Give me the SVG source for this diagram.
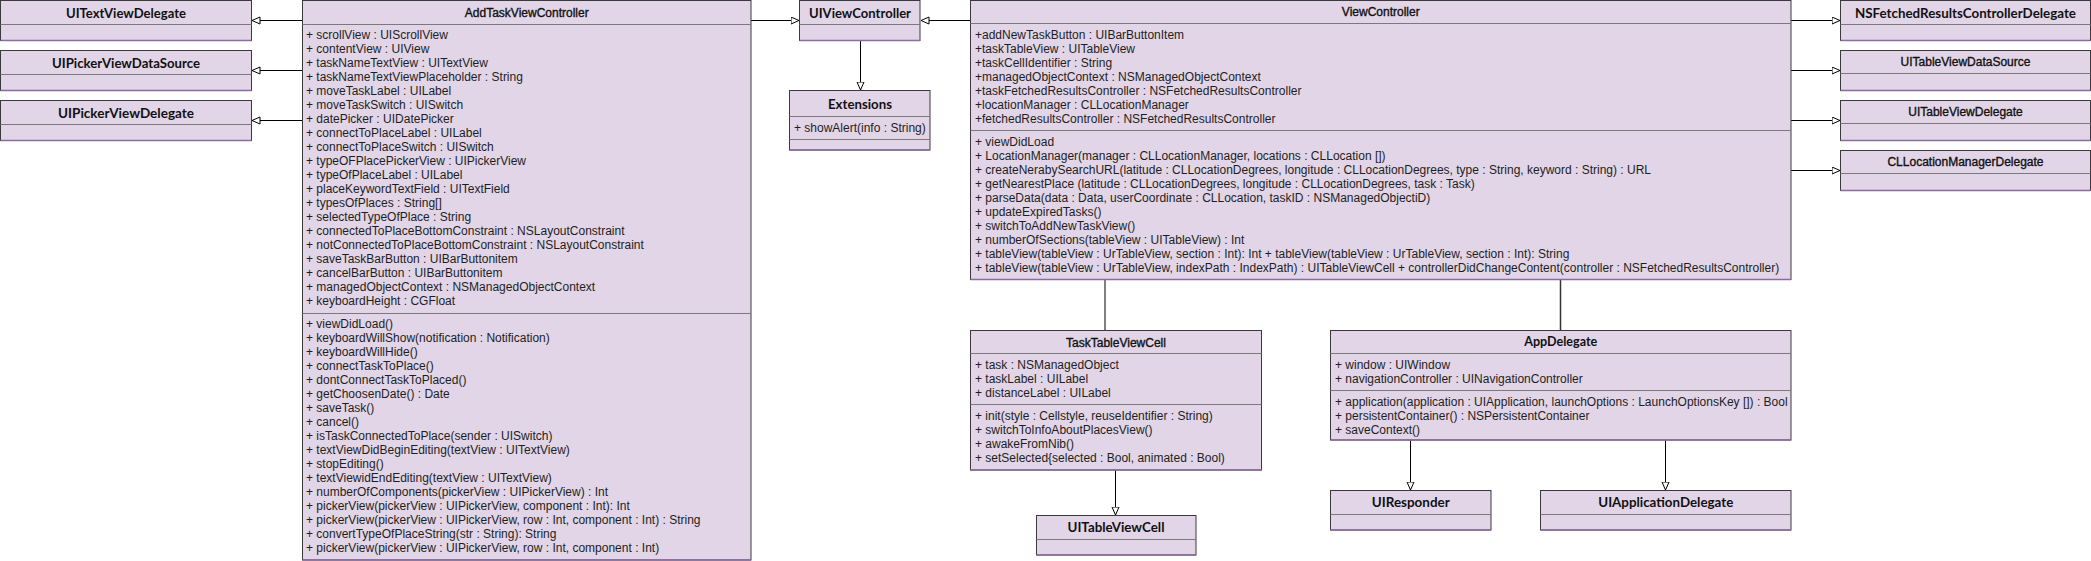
<svg xmlns="http://www.w3.org/2000/svg" width="2091" height="561" viewBox="0 0 2091 561">
<style>
.bg{fill:#ffffff}
.box{fill:#e1d5e7;stroke:#3a3a3a;stroke-width:1}
.dv{stroke:#7a7a7a;stroke-width:1}
.bt{stroke:#8c6c9f;stroke-width:1.5}
.t{font-family:"Liberation Sans",Arial,sans-serif;font-size:12px;fill:#1e1e1e}
.h{font-family:Lato,"Liberation Sans",sans-serif;font-weight:bold;font-size:14px;fill:#111;text-anchor:middle}
.hr{font-family:"Liberation Sans",Arial,sans-serif;font-size:12px;fill:#111;stroke:#111;stroke-width:0.35;text-anchor:middle}
.ln{stroke:#000;stroke-width:1;fill:none}
.lg{stroke:#808080;stroke-width:2;fill:none}
.ld{stroke:#333;stroke-width:1.5;fill:none}
</style>
<defs>
<marker id="tri" markerUnits="userSpaceOnUse" markerWidth="10" markerHeight="9" refX="8.5" refY="4" orient="auto">
<path d="M0.5,0.5 L8.5,4 L0.5,7.5 Z" fill="#ffffff" stroke="#000" stroke-width="1"/>
</marker>
</defs>
<rect class="bg" x="0" y="0" width="2091" height="561"/>

<g id="connectors">
<line class="ln" x1="302" y1="20.5" x2="252" y2="20.5" marker-end="url(#tri)"/>
<line class="ln" x1="302" y1="70.5" x2="252" y2="70.5" marker-end="url(#tri)"/>
<line class="ln" x1="302" y1="120.5" x2="252" y2="120.5" marker-end="url(#tri)"/>
<line class="ln" x1="751" y1="20.5" x2="799" y2="20.5" marker-end="url(#tri)"/>
<line class="ln" x1="970" y1="20.5" x2="921" y2="20.5" marker-end="url(#tri)"/>
<line class="ln" x1="860.5" y1="41" x2="860.5" y2="90" marker-end="url(#tri)"/>
<line class="ln" x1="1791" y1="20.5" x2="1840" y2="20.5" marker-end="url(#tri)"/>
<line class="ln" x1="1791" y1="70.5" x2="1840" y2="70.5" marker-end="url(#tri)"/>
<line class="ln" x1="1791" y1="120.5" x2="1840" y2="120.5" marker-end="url(#tri)"/>
<line class="ln" x1="1791" y1="170.5" x2="1840" y2="170.5" marker-end="url(#tri)"/>
<line class="lg" x1="1105" y1="280" x2="1105" y2="330"/>
<line class="ld" x1="1560.5" y1="280" x2="1560.5" y2="330"/>
<line class="ln" x1="1115.5" y1="470" x2="1115.5" y2="515" marker-end="url(#tri)"/>
<line class="ln" x1="1410.5" y1="440" x2="1410.5" y2="490" marker-end="url(#tri)"/>
<line class="ln" x1="1665.5" y1="440" x2="1665.5" y2="490" marker-end="url(#tri)"/>
</g>

<g id="UITextViewDelegate">
<rect class="box" x="0.5" y="0.5" width="251" height="40"/>
<line class="dv" x1="0.5" y1="24.5" x2="251.5" y2="24.5"/>
<line class="bt" x1="0.5" y1="40.5" x2="251.5" y2="40.5"/>
<text class="h" x="126" y="18" textLength="120" lengthAdjust="spacingAndGlyphs">UITextViewDelegate</text>
</g>
<g id="UIPickerViewDataSource">
<rect class="box" x="0.5" y="50.5" width="251" height="40"/>
<line class="dv" x1="0.5" y1="74.5" x2="251.5" y2="74.5"/>
<line class="bt" x1="0.5" y1="90.5" x2="251.5" y2="90.5"/>
<text class="h" x="126" y="68" textLength="148" lengthAdjust="spacingAndGlyphs">UIPickerViewDataSource</text>
</g>
<g id="UIPickerViewDelegate">
<rect class="box" x="0.5" y="100.5" width="251" height="40"/>
<line class="dv" x1="0.5" y1="124.5" x2="251.5" y2="124.5"/>
<line class="bt" x1="0.5" y1="140.5" x2="251.5" y2="140.5"/>
<text class="h" x="126" y="118" textLength="136" lengthAdjust="spacingAndGlyphs">UIPickerViewDelegate</text>
</g>

<g id="AddTaskViewController">
<rect class="box" x="302.5" y="0.5" width="448.5" height="559.5"/>
<line class="dv" x1="302.5" y1="24.5" x2="751" y2="24.5"/>
<line class="dv" x1="302.5" y1="313.5" x2="751" y2="313.5"/>
<line class="bt" x1="302.5" y1="560" x2="751" y2="560"/>
<text class="hr" x="526.75" y="16.5">AddTaskViewController</text>
<text class="t" x="306" y="38.5">+ scrollView : UIScrollView</text>
<text class="t" x="306" y="52.5">+ contentView : UIView</text>
<text class="t" x="306" y="66.5">+ taskNameTextView : UITextView</text>
<text class="t" x="306" y="80.5">+ taskNameTextViewPlaceholder : String</text>
<text class="t" x="306" y="94.5">+ moveTaskLabel : UILabel</text>
<text class="t" x="306" y="108.5">+ moveTaskSwitch : UISwitch</text>
<text class="t" x="306" y="122.5">+ datePicker : UIDatePicker</text>
<text class="t" x="306" y="136.5">+ connectToPlaceLabel : UILabel</text>
<text class="t" x="306" y="150.5">+ connectToPlaceSwitch : UISwitch</text>
<text class="t" x="306" y="164.5">+ typeOFPlacePickerView : UIPickerView</text>
<text class="t" x="306" y="178.5">+ typeOfPlaceLabel : UILabel</text>
<text class="t" x="306" y="192.5">+ placeKeywordTextField : UITextField</text>
<text class="t" x="306" y="206.5">+ typesOfPlaces : String[]</text>
<text class="t" x="306" y="220.5">+ selectedTypeOfPlace : String</text>
<text class="t" x="306" y="234.5">+ connectedToPlaceBottomConstraint : NSLayoutConstraint</text>
<text class="t" x="306" y="248.5">+ notConnectedToPlaceBottomConstraint : NSLayoutConstraint</text>
<text class="t" x="306" y="262.5">+ saveTaskBarButton : UIBarButtonitem</text>
<text class="t" x="306" y="276.5">+ cancelBarButton : UIBarButtonitem</text>
<text class="t" x="306" y="290.5">+ managedObjectContext : NSManagedObjectContext</text>
<text class="t" x="306" y="304.5">+ keyboardHeight : CGFloat</text>
<text class="t" x="306" y="328">+ viewDidLoad()</text>
<text class="t" x="306" y="342">+ keyboardWillShow(notification : Notification)</text>
<text class="t" x="306" y="356">+ keyboardWillHide()</text>
<text class="t" x="306" y="370">+ connectTaskToPlace()</text>
<text class="t" x="306" y="384">+ dontConnectTaskToPlaced()</text>
<text class="t" x="306" y="398">+ getChoosenDate() : Date</text>
<text class="t" x="306" y="412">+ saveTask()</text>
<text class="t" x="306" y="426">+ cancel()</text>
<text class="t" x="306" y="440">+ isTaskConnectedToPlace(sender : UISwitch)</text>
<text class="t" x="306" y="454">+ textViewDidBeginEditing(textView : UITextView)</text>
<text class="t" x="306" y="468">+ stopEditing()</text>
<text class="t" x="306" y="482">+ textViewidEndEditing(textView : UITextView)</text>
<text class="t" x="306" y="496">+ numberOfComponents(pickerView : UIPickerView) : Int</text>
<text class="t" x="306" y="510">+ pickerView(pickerView : UIPickerView, component : Int): Int</text>
<text class="t" x="306" y="524">+ pickerView(pickerView : UIPickerView, row : Int, component : Int) : String</text>
<text class="t" x="306" y="538">+ convertTypeOfPlaceString(str : String): String</text>
<text class="t" x="306" y="552">+ pickerView(pickerView : UIPickerView, row : Int, component : Int)</text>
</g>

<g id="UIViewController">
<rect class="box" x="799.5" y="0.5" width="120.5" height="40"/>
<line class="dv" x1="799.5" y1="24.5" x2="920" y2="24.5"/>
<line class="bt" x1="799.5" y1="40.5" x2="920" y2="40.5"/>
<text class="h" x="860" y="17.5" textLength="102" lengthAdjust="spacingAndGlyphs">UIViewController</text>
</g>
<g id="Extensions">
<rect class="box" x="789.5" y="90.5" width="140.5" height="59.5"/>
<line class="dv" x1="789.5" y1="116.5" x2="930" y2="116.5"/>
<line class="dv" x1="789.5" y1="139.5" x2="930" y2="139.5"/>
<line class="bt" x1="789.5" y1="150" x2="930" y2="150"/>
<text class="h" x="860" y="108.5" textLength="64" lengthAdjust="spacingAndGlyphs">Extensions</text>
<text class="t" x="794" y="132">+ showAlert(info : String)</text>
</g>

<g id="ViewController">
<rect class="box" x="970.5" y="0.5" width="820.5" height="279"/>
<line class="dv" x1="970.5" y1="23.5" x2="1791" y2="23.5"/>
<line class="dv" x1="970.5" y1="130.5" x2="1791" y2="130.5"/>
<line class="bt" x1="970.5" y1="279.5" x2="1791" y2="279.5"/>
<text class="hr" x="1380.75" y="16">ViewController</text>
<text class="t" x="975" y="38.5">+addNewTaskButton : UIBarButtonItem</text>
<text class="t" x="975" y="52.5">+taskTableView : UITableView</text>
<text class="t" x="975" y="66.5">+taskCellIdentifier : String</text>
<text class="t" x="975" y="80.5">+managedObjectContext : NSManagedObjectContext</text>
<text class="t" x="975" y="94.5">+taskFetchedResultsController : NSFetchedResultsController</text>
<text class="t" x="975" y="108.5">+locationManager : CLLocationManager</text>
<text class="t" x="975" y="122.5">+fetchedResultsController : NSFetchedResultsController</text>
<text class="t" x="975" y="146">+ viewDidLoad</text>
<text class="t" x="975" y="160">+ LocationManager(manager : CLLocationManager, locations : CLLocation [])</text>
<text class="t" x="975" y="174">+ createNerabySearchURL(latitude : CLLocationDegrees, longitude : CLLocationDegrees, type : String, keyword : String) : URL</text>
<text class="t" x="975" y="188">+ getNearestPlace (latitude : CLLocationDegrees, longitude : CLLocationDegrees, task : Task)</text>
<text class="t" x="975" y="202">+ parseData(data : Data, userCoordinate : CLLocation, taskID : NSManagedObjectiD)</text>
<text class="t" x="975" y="216">+ updateExpiredTasks()</text>
<text class="t" x="975" y="230">+ switchToAddNewTaskView()</text>
<text class="t" x="975" y="244">+ numberOfSections(tableView : UITableView) : Int</text>
<text class="t" x="975" y="258">+ tableView(tableView : UrTableView, section : Int): Int + tableView(tableView : UrTableView, section : Int): String</text>
<text class="t" x="975" y="272">+ tableView(tableView : UrTableView, indexPath : IndexPath) : UITableViewCell + controllerDidChangeContent(controller : NSFetchedResultsController)</text>
</g>

<g id="NSFetchedResultsControllerDelegate">
<rect class="box" x="1840.5" y="0.5" width="250" height="40"/>
<line class="dv" x1="1840.5" y1="24.5" x2="2090.5" y2="24.5"/>
<line class="bt" x1="1840.5" y1="40.5" x2="2090.5" y2="40.5"/>
<text class="h" x="1965.5" y="17.5" textLength="221" lengthAdjust="spacingAndGlyphs">NSFetchedResultsControllerDelegate</text>
</g>
<g id="UITableViewDataSource">
<rect class="box" x="1840.5" y="50.5" width="250" height="40"/>
<line class="dv" x1="1840.5" y1="73.5" x2="2090.5" y2="73.5"/>
<line class="bt" x1="1840.5" y1="90.5" x2="2090.5" y2="90.5"/>
<text class="hr" x="1965.5" y="66">UITableViewDataSource</text>
</g>
<g id="UITableViewDelegate">
<rect class="box" x="1840.5" y="100.5" width="250" height="40"/>
<line class="dv" x1="1840.5" y1="123.5" x2="2090.5" y2="123.5"/>
<line class="bt" x1="1840.5" y1="140.5" x2="2090.5" y2="140.5"/>
<text class="hr" x="1965.5" y="116">UITableViewDelegate</text>
</g>
<g id="CLLocationManagerDelegate">
<rect class="box" x="1840.5" y="150.5" width="250" height="40"/>
<line class="dv" x1="1840.5" y1="173.5" x2="2090.5" y2="173.5"/>
<line class="bt" x1="1840.5" y1="190.5" x2="2090.5" y2="190.5"/>
<text class="hr" x="1965.5" y="166">CLLocationManagerDelegate</text>
</g>

<g id="TaskTableViewCell">
<rect class="box" x="970.5" y="330.5" width="291" height="139.5"/>
<line class="dv" x1="970.5" y1="353.5" x2="1261.5" y2="353.5"/>
<line class="dv" x1="970.5" y1="404.5" x2="1261.5" y2="404.5"/>
<line class="bt" x1="970.5" y1="470" x2="1261.5" y2="470"/>
<text class="hr" x="1116" y="347">TaskTableViewCell</text>
<text class="t" x="975" y="369">+ task : NSManagedObject</text>
<text class="t" x="975" y="383">+ taskLabel : UILabel</text>
<text class="t" x="975" y="397">+ distanceLabel : UILabel</text>
<text class="t" x="975" y="420">+ init(style : Cellstyle, reuseIdentifier : String)</text>
<text class="t" x="975" y="434">+ switchToInfoAboutPlacesView()</text>
<text class="t" x="975" y="448">+ awakeFromNib()</text>
<text class="t" x="975" y="462">+ setSelected{selected : Bool, animated : Bool)</text>
</g>
<g id="UITableViewCell">
<rect class="box" x="1036.5" y="515.5" width="159.5" height="39.5"/>
<line class="dv" x1="1036.5" y1="539.5" x2="1196" y2="539.5"/>
<line class="bt" x1="1036.5" y1="555" x2="1196" y2="555"/>
<text class="h" x="1116" y="532" textLength="97" lengthAdjust="spacingAndGlyphs">UITableViewCell</text>
</g>

<g id="AppDelegate">
<rect class="box" x="1330.5" y="330.5" width="460.5" height="109.5"/>
<line class="dv" x1="1330.5" y1="353.5" x2="1791" y2="353.5"/>
<line class="dv" x1="1330.5" y1="390.5" x2="1791" y2="390.5"/>
<line class="bt" x1="1330.5" y1="440" x2="1791" y2="440"/>
<text class="h" x="1560.75" y="346" textLength="73" lengthAdjust="spacingAndGlyphs">AppDelegate</text>
<text class="t" x="1335" y="369">+ window : UIWindow</text>
<text class="t" x="1335" y="383">+ navigationController : UINavigationController</text>
<text class="t" x="1335" y="406">+ application(application : UIApplication, launchOptions : LaunchOptionsKey []) : Bool</text>
<text class="t" x="1335" y="420">+ persistentContainer() : NSPersistentContainer</text>
<text class="t" x="1335" y="434">+ saveContext()</text>
</g>
<g id="UIResponder">
<rect class="box" x="1330.5" y="490.5" width="160.5" height="39.5"/>
<line class="dv" x1="1330.5" y1="514.5" x2="1491" y2="514.5"/>
<line class="bt" x1="1330.5" y1="530" x2="1491" y2="530"/>
<text class="h" x="1410.75" y="507" textLength="78" lengthAdjust="spacingAndGlyphs">UIResponder</text>
</g>
<g id="UIApplicationDelegate">
<rect class="box" x="1540.5" y="490.5" width="250.5" height="39.5"/>
<line class="dv" x1="1540.5" y1="514.5" x2="1791" y2="514.5"/>
<line class="bt" x1="1540.5" y1="530" x2="1791" y2="530"/>
<text class="h" x="1665.75" y="507" textLength="135" lengthAdjust="spacingAndGlyphs">UIApplicationDelegate</text>
</g>
</svg>
